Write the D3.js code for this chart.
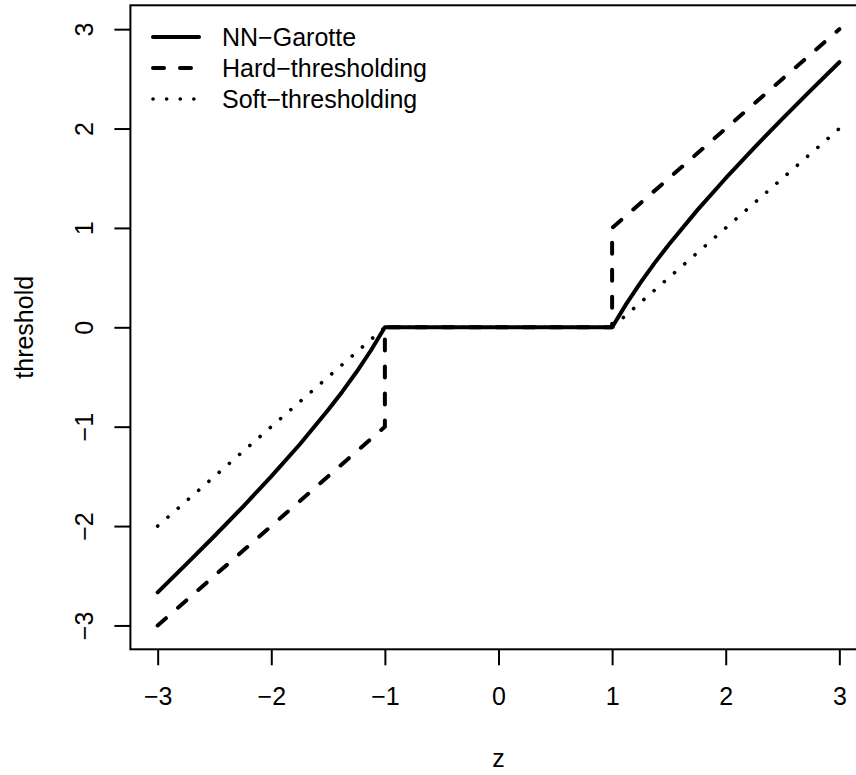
<!DOCTYPE html>
<html>
<head>
<meta charset="utf-8">
<script src="https://cdn.jsdelivr.net/npm/d3@7"></script>
<style>
  html, body { margin: 0; padding: 0; background: #fff; }
  svg text { font-family: "Liberation Sans", Arial, Helvetica, sans-serif; fill: #000; }
</style>
</head>
<body>
<svg id="chart" width="856" height="775"></svg>
<script>
// Thresholding rules, lambda = 1
const garotteZ = [-3, -2.75, -2.5, -2.25, -2, -1.75, -1.5, -1.375, -1.25, -1.125, -1,
                  1, 1.125, 1.25, 1.375, 1.5, 1.75, 2, 2.25, 2.5, 2.75, 3];
const garotteY = [-2.667, -2.386, -2.1, -1.806, -1.5, -1.179, -0.833, -0.648, -0.45, -0.236, 0,
                  0, 0.236, 0.45, 0.648, 0.833, 1.179, 1.5, 1.806, 2.1, 2.386, 2.667];
const hardZ = [-3, -1, -1, 1, 1, 3];
const hardY = [-3, -1, 0, 0, 1, 3];
const softZ = [-3, -1, 1, 3];
const softY = [-2, 0, 0, 2];

const seriesNames = ["NN\u2212Garotte", "Hard\u2212thresholding", "Soft\u2212thresholding"];
const xTicks = [-3, -2, -1, 0, 1, 2, 3];
const yTicks = [-3, -2, -1, 0, 1, 2, 3];
const xLabel = "z";
const yLabel = "threshold";

// line styles per series
const styles = [
  { width: 4, dash: null, cap: "round" },
  { width: 4, dash: "11,16", cap: "round" },
  { width: 3.6, dash: "0.1,13.5", cap: "round" }
];

const svg = d3.select("#chart");
const plotLeft = 130.4, plotRight = 866.6, plotTop = 5.3, plotBottom = 649.3;
const FS = 25;

const x = d3.scaleLinear().domain([-3.24, 3.24]).range([plotLeft, plotRight]);
const y = d3.scaleLinear().domain([-3.24, 3.24]).range([plotBottom, plotTop]);

const minus = s => String(s).replace("-", "\u2212");

// clip to plot region
svg.append("defs").append("clipPath").attr("id", "plotclip")
  .append("rect").attr("x", plotLeft).attr("y", plotTop)
  .attr("width", plotRight - plotLeft).attr("height", plotBottom - plotTop);

const line = d3.line().x(d => x(d[0])).y(d => y(d[1]));
const series = [
  d3.zip(garotteZ, garotteY),
  d3.zip(hardZ, hardY),
  d3.zip(softZ, softY)
];

const plot = svg.append("g").attr("clip-path", "url(#plotclip)");
series.forEach((pts, i) => {
  const st = styles[i];
  plot.append("path")
    .attr("d", line(pts))
    .attr("fill", "none")
    .attr("stroke", "#000")
    .attr("stroke-width", st.width)
    .attr("stroke-linecap", st.cap)
    .attr("stroke-linejoin", "round")
    .attr("stroke-dasharray", st.dash);
});

// frame
svg.append("rect")
  .attr("x", plotLeft).attr("y", plotTop)
  .attr("width", plotRight - plotLeft).attr("height", plotBottom - plotTop)
  .attr("fill", "none").attr("stroke", "#000").attr("stroke-width", 2);

// x axis
const xAxis = svg.append("g")
  .attr("transform", `translate(0,${plotBottom})`)
  .call(d3.axisBottom(x).tickValues(xTicks).tickSize(16).tickFormat(minus));
xAxis.select(".domain").remove();
xAxis.selectAll(".tick line").attr("stroke", "#000").attr("stroke-width", 2);
xAxis.selectAll(".tick text")
  .attr("y", 56).attr("dy", null)
  .attr("font-size", FS).attr("font-family", null).attr("fill", "#000");

// y axis
const yAxis = svg.append("g")
  .attr("transform", `translate(${plotLeft},0)`)
  .call(d3.axisLeft(y).tickValues(yTicks).tickSize(16).tickFormat(minus));
yAxis.select(".domain").remove();
yAxis.selectAll(".tick line").attr("stroke", "#000").attr("stroke-width", 2);
yAxis.selectAll(".tick text")
  .attr("x", null).attr("y", null).attr("dy", null)
  .attr("text-anchor", "middle")
  .attr("transform", "translate(-37.4,0) rotate(-90)")
  .attr("font-size", FS).attr("font-family", null).attr("fill", "#000");

// axis titles
svg.append("text")
  .attr("x", (plotLeft + plotRight) / 2).attr("y", 767)
  .attr("text-anchor", "middle").attr("font-size", FS)
  .text(xLabel);
svg.append("text")
  .attr("transform", `translate(33,${(plotTop + plotBottom) / 2}) rotate(-90)`)
  .attr("text-anchor", "middle").attr("font-size", FS)
  .text(yLabel);

// legend
const legend = svg.append("g");
seriesNames.forEach((name, i) => {
  const st = styles[i];
  const ly = 37 + i * 31;
  legend.append("line")
    .attr("x1", 153).attr("x2", 199).attr("y1", ly).attr("y2", ly)
    .attr("stroke", "#000")
    .attr("stroke-width", st.width)
    .attr("stroke-linecap", st.cap)
    .attr("stroke-dasharray", st.dash);
  legend.append("text")
    .attr("x", 222).attr("y", ly).attr("dy", "0.35em")
    .attr("font-size", FS)
    .text(name);
});
</script>
</body>
</html>
